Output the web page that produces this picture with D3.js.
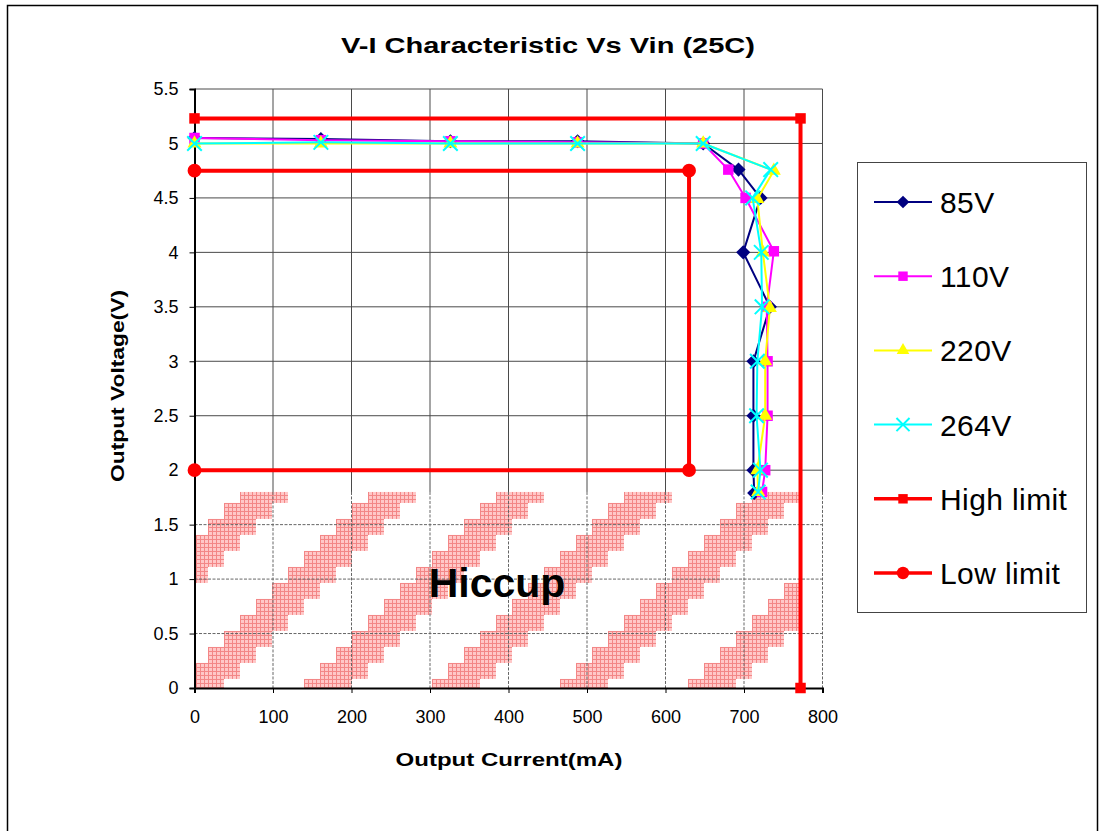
<!DOCTYPE html>
<html>
<head>
<meta charset="utf-8">
<script src="https://cdn.jsdelivr.net/npm/d3@7"></script>
<style>
  body { margin: 0; background: #fff; }
  svg { display: block; font-family: "Liberation Sans", Arial, sans-serif; }
</style>
</head>
<body>
<svg id="chart" width="1103" height="831"></svg>
<script>
// ---- data ----
const xTicks = [0, 100, 200, 300, 400, 500, 600, 700, 800];
const yTicks = [0, 0.5, 1, 1.5, 2, 2.5, 3, 3.5, 4, 4.5, 5, 5.5];

const current85 = [0, 161, 326, 488, 648, 693, 721, 699, 733, 712, 712, 712, 713];
const volt85 = [5.05, 5.04, 5.02, 5.02, 5.0, 4.76, 4.5, 4.0, 3.5, 3.0, 2.5, 2.0, 1.79];

const current110 = [0, 161, 326, 488, 648, 680, 702, 738, 729, 730, 730, 727, 723];
const volt110 = [5.05, 5.03, 5.02, 5.01, 5.0, 4.76, 4.5, 4.01, 3.5, 3.0, 2.5, 2.0, 1.8];

const current220 = [0, 161, 326, 488, 648, 738, 717, 724, 733, 727, 727, 717, 718];
const volt220 = [5.0, 5.0, 5.0, 5.0, 5.0, 4.75, 4.49, 4.0, 3.49, 3.0, 2.5, 2.0, 1.8];

const current264 = [0, 161, 326, 488, 648, 734, 711, 722, 723, 717, 716, 721, 718];
const volt264 = [5.0, 5.01, 5.0, 5.0, 5.0, 4.76, 4.5, 4.0, 3.5, 3.0, 2.5, 2.0, 1.8];

const highCurrent = [0, 772, 772];
const highVolt = [5.23, 5.23, 0];

const lowCurrent = [0, 630, 630, 0];
const lowVolt = [4.75, 4.75, 2.0, 2.0];

// hiccup zone (hatched)
const hiccupCurrent = [0, 772];
const hiccupVolt = [0, 1.8];

const series = [
    { name: "85V", xs: current85, ys: volt85, color: "#000080", width: 2, marker: "diamond" },
    { name: "110V", xs: current110, ys: volt110, color: "#ff00ff", width: 2, marker: "square" },
    { name: "220V", xs: current220, ys: volt220, color: "#ffff00", width: 2, marker: "triangle" },
    { name: "264V", xs: current264, ys: volt264, color: "#00ffff", width: 2, marker: "cross" },
];
const limits = [
    { name: "High limit", xs: highCurrent, ys: highVolt, color: "#ff0000", width: 4, marker: "square" },
    { name: "Low limit", xs: lowCurrent, ys: lowVolt, color: "#ff0000", width: 4, marker: "circle" },
];

// ---- layout ----
const svg = d3.select("#chart");
const x = d3.scaleLinear().domain([0, 800]).range([194.5, 822.5]);
const y = d3.scaleLinear().domain([0, 5.5]).range([688, 89]);

// outer frame
svg.append("path")
    .attr("d", "M7.5,831 V5.5 H1097.5 V831")
    .attr("fill", "none")
    .attr("stroke", "#000")
    .attr("stroke-width", 1.5);

svg.append("text")
    .attr("x", 548).attr("y", 53)
    .attr("text-anchor", "middle")
    .attr("font-weight", "bold")
    .attr("font-size", 22)
    .attr("textLength", 414)
    .attr("lengthAdjust", "spacingAndGlyphs")
    .text("V-I Characteristic Vs Vin (25C)");

// ---- hatch pattern ----
const defs = svg.append("defs");
const fine = defs.append("pattern")
    .attr("id", "fine")
    .attr("patternUnits", "userSpaceOnUse")
    .attr("width", 4).attr("height", 4);
fine.append("rect").attr("width", 4).attr("height", 4).attr("fill", "#ffc8c8");
fine.append("path").attr("d", "M0,0.5H4M0.5,0V4").attr("stroke", "#f38686").attr("stroke-width", 1);

const cell = 16;
const stairs = defs.append("pattern")
    .attr("id", "stairs")
    .attr("patternUnits", "userSpaceOnUse")
    .attr("x", x(0) - 2.5)
    .attr("y", y(1.8) + 11)
    .attr("width", cell * 8).attr("height", cell * 8);
for (let r = 0; r < 8; r++) {
    for (let c = 0; c < 8; c++) {
        const k = (c + r) % 8;
        if (k >= 2 && k <= 4) {
            stairs.append("rect")
                .attr("x", c * cell).attr("y", r * cell)
                .attr("width", cell).attr("height", cell)
                .attr("fill", "url(#fine)");
        }
    }
}

svg.append("rect")
    .attr("x", x(hiccupCurrent[0]) + 1)
    .attr("y", y(hiccupVolt[1]))
    .attr("width", x(hiccupCurrent[1]) - x(hiccupCurrent[0]) - 1)
    .attr("height", y(hiccupVolt[0]) - y(hiccupVolt[1]))
    .attr("fill", "url(#stairs)");

// ---- grid ----
const grid = svg.append("g");
xTicks.slice(1).forEach(v => {
    grid.append("line")
        .attr("x1", x(v)).attr("x2", x(v))
        .attr("y1", y(5.5)).attr("y2", y(1.8))
        .attr("stroke", "#4a4a4a").attr("stroke-width", 1);
    grid.append("line")
        .attr("x1", x(v)).attr("x2", x(v))
        .attr("y1", y(1.8)).attr("y2", y(0))
        .attr("stroke", "#666").attr("stroke-width", 1)
        .attr("stroke-dasharray", "3,1.5");
});
yTicks.slice(1).forEach(v => {
    grid.append("line")
        .attr("x1", x(0)).attr("x2", x(800))
        .attr("y1", y(v)).attr("y2", y(v))
        .attr("stroke", v < 1.8 ? "#666" : "#4a4a4a")
        .attr("stroke-dasharray", v < 1.8 ? "3,1.5" : null)
        .attr("stroke-width", 1);
});

// ---- axes ----
const xAxis = svg.append("g")
    .attr("transform", `translate(0,${y(0)})`)
    .call(d3.axisBottom(x).tickValues(xTicks).tickSize(5).tickPadding(17).tickFormat(d3.format("d")));
const yAxis = svg.append("g")
    .attr("transform", `translate(${x(0)},0)`)
    .call(d3.axisLeft(y).tickValues(yTicks).tickSize(5).tickPadding(11).tickFormat(d => String(d)));
[xAxis, yAxis].forEach(a => {
    a.select(".domain").attr("stroke", "#000").attr("stroke-width", 2);
    a.selectAll(".tick line").attr("stroke", "#000");
    a.selectAll(".tick text")
        .attr("font-family", "'Liberation Sans', Arial, sans-serif")
        .attr("font-size", 18).attr("fill", "#000");
});

svg.append("text")
    .attr("x", 509).attr("y", 766)
    .attr("text-anchor", "middle")
    .attr("font-weight", "bold").attr("font-size", 18)
    .attr("textLength", 227)
    .attr("lengthAdjust", "spacingAndGlyphs")
    .text("Output Current(mA)");

svg.append("text")
    .attr("transform", "translate(124,386) rotate(-90)")
    .attr("text-anchor", "middle")
    .attr("font-weight", "bold").attr("font-size", 18)
    .attr("textLength", 192)
    .attr("lengthAdjust", "spacingAndGlyphs")
    .text("Output Voltage(V)");

svg.append("text")
    .attr("x", 497).attr("y", 597)
    .attr("text-anchor", "middle")
    .attr("font-weight", "bold").attr("font-size", 41)
    .text("Hiccup");

// ---- markers ----
function markerPath(kind, scale) {
    const s = scale || 1;
    if (kind === "diamond") return d3.symbol(d3.symbolSquare, 100 * s * s)();
    if (kind === "square") return d3.symbol(d3.symbolSquare, 110 * s * s)();
    if (kind === "triangle") return d3.symbol(d3.symbolTriangle, 85 * s * s)();
    if (kind === "cross") return d3.symbol(d3.symbolTimes, 140 * s * s)();
    return d3.symbol(d3.symbolCircle, 150 * s * s)();
}
function drawMarker(g, kind, color, px, py, scale) {
    const m = g.append("path")
        .attr("d", markerPath(kind, scale))
        .attr("transform", `translate(${px},${py})` + (kind === "diamond" ? " rotate(45)" : ""));
    if (kind === "cross") {
        m.attr("fill", "none").attr("stroke", color).attr("stroke-width", 2);
    } else {
        m.attr("fill", color);
    }
}

const line = d3.line().x(d => x(d[0])).y(d => y(d[1]));

function drawSeries(s) {
    const pts = s.xs.map((v, i) => [v, s.ys[i]]);
    const g = svg.append("g");
    g.append("path")
        .attr("d", line(pts))
        .attr("fill", "none")
        .attr("stroke", s.color)
        .attr("stroke-width", s.width)
        .attr("stroke-linejoin", "round");
    pts.forEach(p => drawMarker(g, s.marker, s.color, x(p[0]), y(p[1])));
}
limits.forEach(drawSeries);
series.forEach(drawSeries);

// ---- legend ----
const legend = svg.append("g");
legend.append("rect")
    .attr("x", 857.5).attr("y", 162.5)
    .attr("width", 229).attr("height", 450)
    .attr("fill", "#fff")
    .attr("stroke", "#444").attr("stroke-width", 1);
series.concat(limits).forEach((s, i) => {
    const ly = 202 + i * 74.2;
    legend.append("line")
        .attr("x1", 874).attr("x2", 932)
        .attr("y1", ly).attr("y2", ly)
        .attr("stroke", s.color).attr("stroke-width", s.width === 4 ? 3.5 : 2);
    drawMarker(legend, s.marker, s.color, 903, ly, 0.9);
    legend.append("text")
        .attr("x", 940).attr("y", ly + 11)
        .attr("font-size", 30)
        .attr("letter-spacing", 0.4)
        .text(s.name);
});
</script>
</body>
</html>
